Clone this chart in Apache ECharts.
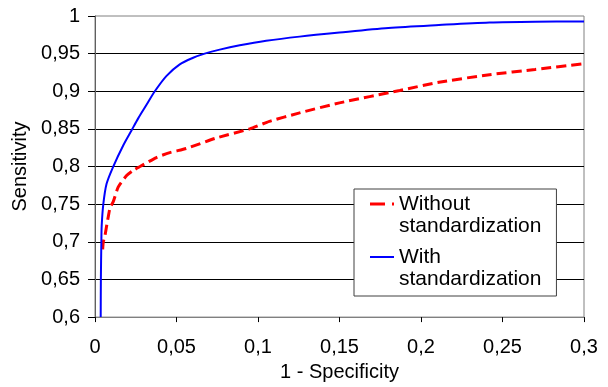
<!DOCTYPE html>
<html>
<head>
<meta charset="utf-8">
<script src="https://cdn.jsdelivr.net/npm/echarts@6/dist/echarts.min.js"></script>
<style>
  html, body { margin: 0; padding: 0; background: #fff; }
  #chart { width: 608px; height: 387px; }
</style>
</head>
<body>
<div id="chart"></div>
<script>
// ROC curves: 1 - specificity vs sensitivity
const xTickLabels = ['0', '0,05', '0,1', '0,15', '0,2', '0,25', '0,3'];
const yTickLabels = ['0,6', '0,65', '0,7', '0,75', '0,8', '0,85', '0,9', '0,95', '1'];

const withoutX = [0.0047, 0.0051, 0.0061, 0.0072, 0.0082, 0.0092, 0.0112, 0.0143, 0.0194, 0.0235, 0.0276,
  0.0377, 0.0459, 0.056, 0.0745, 0.0949, 0.107, 0.125, 0.15, 0.187, 0.211, 0.242, 0.27, 0.3];
const withoutY = [0.69, 0.70, 0.708, 0.722, 0.734, 0.745, 0.7534, 0.773, 0.788, 0.795, 0.8,
  0.812, 0.8185, 0.824, 0.838, 0.85, 0.86, 0.871, 0.8846, 0.901, 0.912, 0.922, 0.929, 0.9367];

const withX = [0.0035, 0.0036, 0.0039, 0.0041, 0.0051, 0.0071, 0.0112, 0.0173, 0.0224, 0.0265, 0.0316,
  0.0367, 0.0439, 0.052, 0.0602, 0.0673, 0.0765, 0.0888, 0.105, 0.1255, 0.15, 0.18, 0.211, 0.242, 0.27, 0.3];
const withY = [0.6, 0.65, 0.7, 0.721, 0.75, 0.777, 0.8, 0.828, 0.848, 0.864, 0.882,
  0.9, 0.9205, 0.9358, 0.9445, 0.95, 0.9553, 0.961, 0.967, 0.9726, 0.978, 0.984, 0.988, 0.9914, 0.9925, 0.9927];

const seriesNames = ['Without\nstandardization', 'With\nstandardization'];

const toPairs = (xs, ys) => xs.map((x, i) => [x, ys[i]]);

const chart = echarts.init(document.getElementById('chart'));
const font = 'Liberation Sans, Arial, sans-serif';

chart.setOption({
  animation: false,
  backgroundColor: '#fff',
  textStyle: { fontFamily: font },
  grid: { left: 95, right: 24, top: 16, bottom: 64, show: true, borderColor: '#808080', borderWidth: 1 },
  xAxis: {
    type: 'value',
    min: 0,
    max: 0.3,
    interval: 0.05,
    name: '1 - Specificity',
    nameLocation: 'middle',
    nameGap: 44,
    nameTextStyle: { fontSize: 20, color: '#000', fontFamily: font },
    axisLine: { lineStyle: { color: '#808080' } },
    axisTick: { inside: false, length: 5, lineStyle: { color: '#000' } },
    axisLabel: {
      fontSize: 20,
      color: '#000',
      margin: 20,
      fontFamily: font,
      formatter: v => xTickLabels[Math.round(v / 0.05)]
    },
    splitLine: { show: false }
  },
  yAxis: {
    type: 'value',
    min: 0.6,
    max: 1,
    interval: 0.05,
    name: 'Sensitivity',
    nameLocation: 'middle',
    nameRotate: 90,
    nameGap: 60,
    nameTextStyle: { fontSize: 20, color: '#000', fontFamily: font },
    axisLine: { show: true, lineStyle: { color: '#606060' } },
    axisTick: { show: true, inside: false, length: 7, lineStyle: { color: '#000' } },
    axisLabel: {
      fontSize: 20,
      color: '#000',
      margin: 15,
      fontFamily: font,
      formatter: v => yTickLabels[Math.round((v - 0.6) / 0.05)]
    },
    splitLine: { show: true, showMinLine: false, showMaxLine: false, lineStyle: { color: '#000', width: 1 } }
  },
  legend: {
    orient: 'vertical',
    left: 354,
    top: 189,
    padding: [4, 15, 6, 16],
    itemGap: 9,
    itemWidth: 24,
    itemHeight: 44,
    backgroundColor: '#fff',
    borderColor: '#404040',
    borderWidth: 1,
    borderRadius: 0,
    selectedMode: false,
    itemStyle: { borderWidth: 0 },
    textStyle: { fontSize: 21, lineHeight: 22, color: '#000', fontFamily: font },
    data: [
      { name: seriesNames[0], icon: 'path://M0,0M24,44M0,9.5h15v3h-15zM22,9.5h2v3h-2z' },
      { name: seriesNames[1], icon: 'path://M0,0M24,44M0,10h24v2h-24z' }
    ]
  },
  series: [
    {
      name: seriesNames[0],
      type: 'line',
      data: toPairs(withoutX, withoutY),
      symbol: 'none',
      smooth: 0.2,
      color: '#ff0000',
      lineStyle: { color: '#ff0000', width: 3, type: [10, 5] }
    },
    {
      name: seriesNames[1],
      type: 'line',
      data: toPairs(withX, withY),
      symbol: 'none',
      smooth: 0.3,
      color: '#0000ff',
      lineStyle: { color: '#0000ff', width: 2 }
    }
  ]
});
</script>
</body>
</html>
